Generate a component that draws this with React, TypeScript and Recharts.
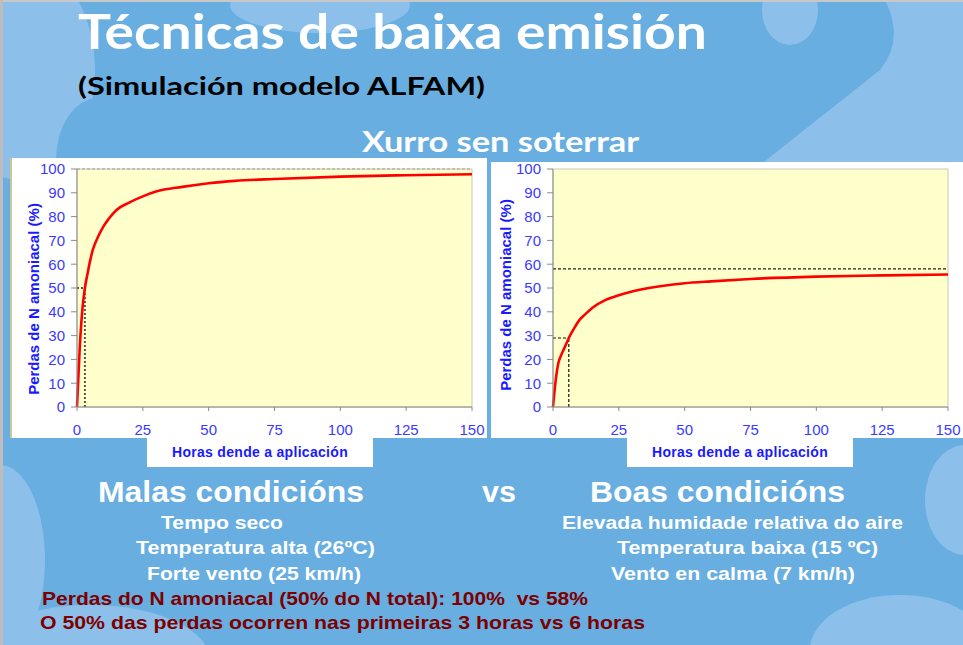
import React from 'react';
import { LineChart, Line, XAxis, YAxis, ReferenceLine, ReferenceArea } from 'recharts';

// ALFAM simulation: cumulative ammonia N loss (%) vs hours after application
const hours = [0, 1, 2, 3, 4, 5, 6, 8, 10, 12, 15, 20, 25, 30, 40, 50, 60, 75, 100, 125, 150];
const lossBad = [0, 24, 40.5, 50, 56, 61.5, 66, 71.5, 75.8, 79, 82.8, 86, 88.5, 90.5, 92.5, 94, 95, 95.8, 96.8, 97.4, 97.8];
const lossGood = [0, 11, 18.3, 21.5, 24, 26.5, 29, 33, 36.5, 38.7, 41.7, 45, 47, 48.5, 50.6, 52, 52.8, 53.8, 54.8, 55.3, 55.7];

const xTicks = [0, 25, 50, 75, 100, 125, 150];
const yTicks = [0, 10, 20, 30, 40, 50, 60, 70, 80, 90, 100];

// reference markers: final loss, time to half loss, value at half time
const finalLoss = [100, 58];
const halfHours = [3, 6];
const halfLoss = [50, 29];

const BLUE_TXT = '#3b3bff';
const AXIS = '#8a8a8a';
const FONT = '"Liberation Sans", Arial, sans-serif';
const LIGHT = '#8cc0ea';
const DARK = '#68aee1';

const badData = hours.map((h, i) => ({ h, v: lossBad[i] }));
const goodData = hours.map((h, i) => ({ h, v: lossGood[i] }));

const LossChart = ({ data, idx, width, height, yWidth, labelX, labelY, guide }: any) => {
  const yLabel = () => (
    <text
      x={labelX}
      y={labelY}
      transform={`rotate(-90 ${labelX} ${labelY})`}
      textAnchor="middle"
      dominantBaseline="central"
      fill="#1a1aff"
      fontWeight="bold"
      fontSize={15}
      fontFamily={FONT}
    >
      Perdas de N amoniacal (%)
    </text>
  );
  return (
    <LineChart width={width} height={height} data={data} margin={{ top: 11, right: 15, bottom: 0, left: 0 }}>
      <XAxis
        dataKey="h"
        type="number"
        domain={[0, 150]}
        ticks={xTicks}
        height={31}
        tickSize={4}
        tickMargin={13}
        stroke={AXIS}
        tick={{ fill: BLUE_TXT, fontSize: 15, fontFamily: FONT }}
      />
      <YAxis
        type="number"
        domain={[0, 100]}
        ticks={yTicks}
        width={yWidth}
        tickSize={6}
        tickMargin={6}
        stroke={AXIS}
        interval={0}
        tick={{ fill: BLUE_TXT, fontSize: 15, fontFamily: FONT }}
        label={{ content: yLabel }}
      />
      <ReferenceArea x1={0} x2={150} y1={0} y2={100} fill="#ffffcc" fillOpacity={1} stroke="#c9c9b8" />
      <ReferenceLine y={finalLoss[idx]} stroke={guide.top} strokeDasharray="3 2" strokeWidth={1.2} />
      <ReferenceLine
        segment={[{ x: 0, y: halfLoss[idx] }, { x: halfHours[idx], y: halfLoss[idx] }]}
        stroke={guide.color}
        strokeDasharray={guide.dash}
        strokeWidth={guide.width}
      />
      <ReferenceLine
        segment={[{ x: halfHours[idx], y: 0 }, { x: halfHours[idx], y: halfLoss[idx] }]}
        stroke={guide.color}
        strokeDasharray={guide.dash}
        strokeWidth={guide.width}
      />
      <Line type="monotone" dataKey="v" stroke="#ff0000" strokeWidth={2.6} dot={false} isAnimationActive={false} />
    </LineChart>
  );
};

const T = ({ x, y, w, size, fill = '#fff', family = FONT, children }: any) => (
  <text
    x={x}
    y={y}
    fontSize={size}
    fontWeight="bold"
    fill={fill}
    fontFamily={family}
    textLength={w}
    lengthAdjust="spacingAndGlyphs"
    style={{ whiteSpace: 'pre' }}
  >
    {children}
  </text>
);

const boxStyle: React.CSSProperties = {
  position: 'absolute',
  top: 438,
  width: 226,
  height: 29,
  background: '#fff',
  color: '#1a1aff',
  fontFamily: FONT,
  fontWeight: 'bold',
  fontSize: 14,
  lineHeight: '29px',
  textAlign: 'center',
  letterSpacing: 0.3,
};

export default function App() {
  const LATO = 'Lato, "Open Sans", sans-serif';
  const DARKRED = '#7d0000';
  return (
    <div style={{ position: 'absolute', left: 0, top: 0, width: 963, height: 645, overflow: 'hidden', background: DARK }}>
      <svg width={963} height={645} style={{ position: 'absolute', left: 0, top: 0 }}>
        <g fill={LIGHT}>
          <ellipse cx={20} cy={70} rx={75} ry={110} />
          <ellipse cx={320} cy={5} rx={90} ry={28} />
          <ellipse cx={790} cy={10} rx={28} ry={35} />
          <path d="M963 0 L885 0 Q905 40 880 70 L760 165 L963 165 Z" />
          <ellipse cx={0} cy={560} rx={45} ry={95} />
          <ellipse cx={90} cy={660} rx={120} ry={55} />
          <ellipse cx={965} cy={500} rx={40} ry={55} />
          <ellipse cx={900} cy={650} rx={90} ry={55} />
        </g>
        <g fill={DARK}>
          <ellipse cx={98} cy={160} rx={42} ry={62} />
          <ellipse cx={180} cy={58} rx={35} ry={45} />
        </g>
        <rect x={0} y={0} width={963} height={2} fill="#c8c8c8" />
        <rect x={0} y={0} width={3} height={645} fill="#bdbdbd" />

        <T x={78} y={49} w={629} size={47} family={LATO}>Técnicas de baixa emisión</T>
        <T x={78} y={95} w={407} size={25} fill="#000" family={LATO}>(Simulación modelo ALFAM)</T>
        <T x={362} y={152} w={277} size={28} family={LATO}>Xurro sen soterrar</T>

        <T x={98} y={502} w={266} size={29}>Malas condicións</T>
        <T x={482} y={502} w={34} size={29}>vs</T>
        <T x={590} y={502} w={255} size={29}>Boas condicións</T>

        <T x={161} y={529} w={122} size={19}>Tempo seco</T>
        <T x={136} y={554} w={239} size={19}>Temperatura alta (26ºC)</T>
        <T x={147} y={580} w={214} size={19}>Forte vento (25 km/h)</T>
        <T x={562} y={529} w={341} size={19}>Elevada humidade relativa do aire</T>
        <T x={617} y={554} w={261} size={19}>Temperatura baixa (15 ºC)</T>
        <T x={611} y={580} w={244} size={19}>Vento en calma (7 km/h)</T>

        <T x={42} y={605} w={546} size={19} fill={DARKRED}>Perdas do N amoniacal (50% do N total): 100%  vs 58%</T>
        <T x={40} y={629} w={605} size={19} fill={DARKRED}>O 50% das perdas ocorren nas primeiras 3 horas vs 6 horas</T>
      </svg>

      <div style={{ position: 'absolute', left: 10, top: 158, width: 477, height: 280, background: '#fff', borderLeft: '2px solid #c8c890', boxSizing: 'border-box' }} />
      <div style={{ position: 'absolute', left: 491, top: 162, width: 472, height: 276, background: '#fff' }} />

      <div style={{ position: 'absolute', left: 12, top: 158 }}>
        <LossChart
          data={badData}
          idx={0}
          width={475}
          height={280}
          yWidth={65}
          labelX={21}
          labelY={141}
          guide={{ top: '#9a9a9a', color: '#555', dash: '2 2', width: 2 }}
        />
      </div>
      <div style={{ position: 'absolute', left: 491, top: 158 }}>
        <LossChart
          data={goodData}
          idx={1}
          width={472}
          height={280}
          yWidth={62}
          labelX={14}
          labelY={137}
          guide={{ top: '#222', color: '#111', dash: '3 2', width: 1.2 }}
        />
      </div>

      <div style={{ ...boxStyle, left: 147 }}>Horas dende a aplicación</div>
      <div style={{ ...boxStyle, left: 627 }}>Horas dende a aplicación</div>
    </div>
  );
}
